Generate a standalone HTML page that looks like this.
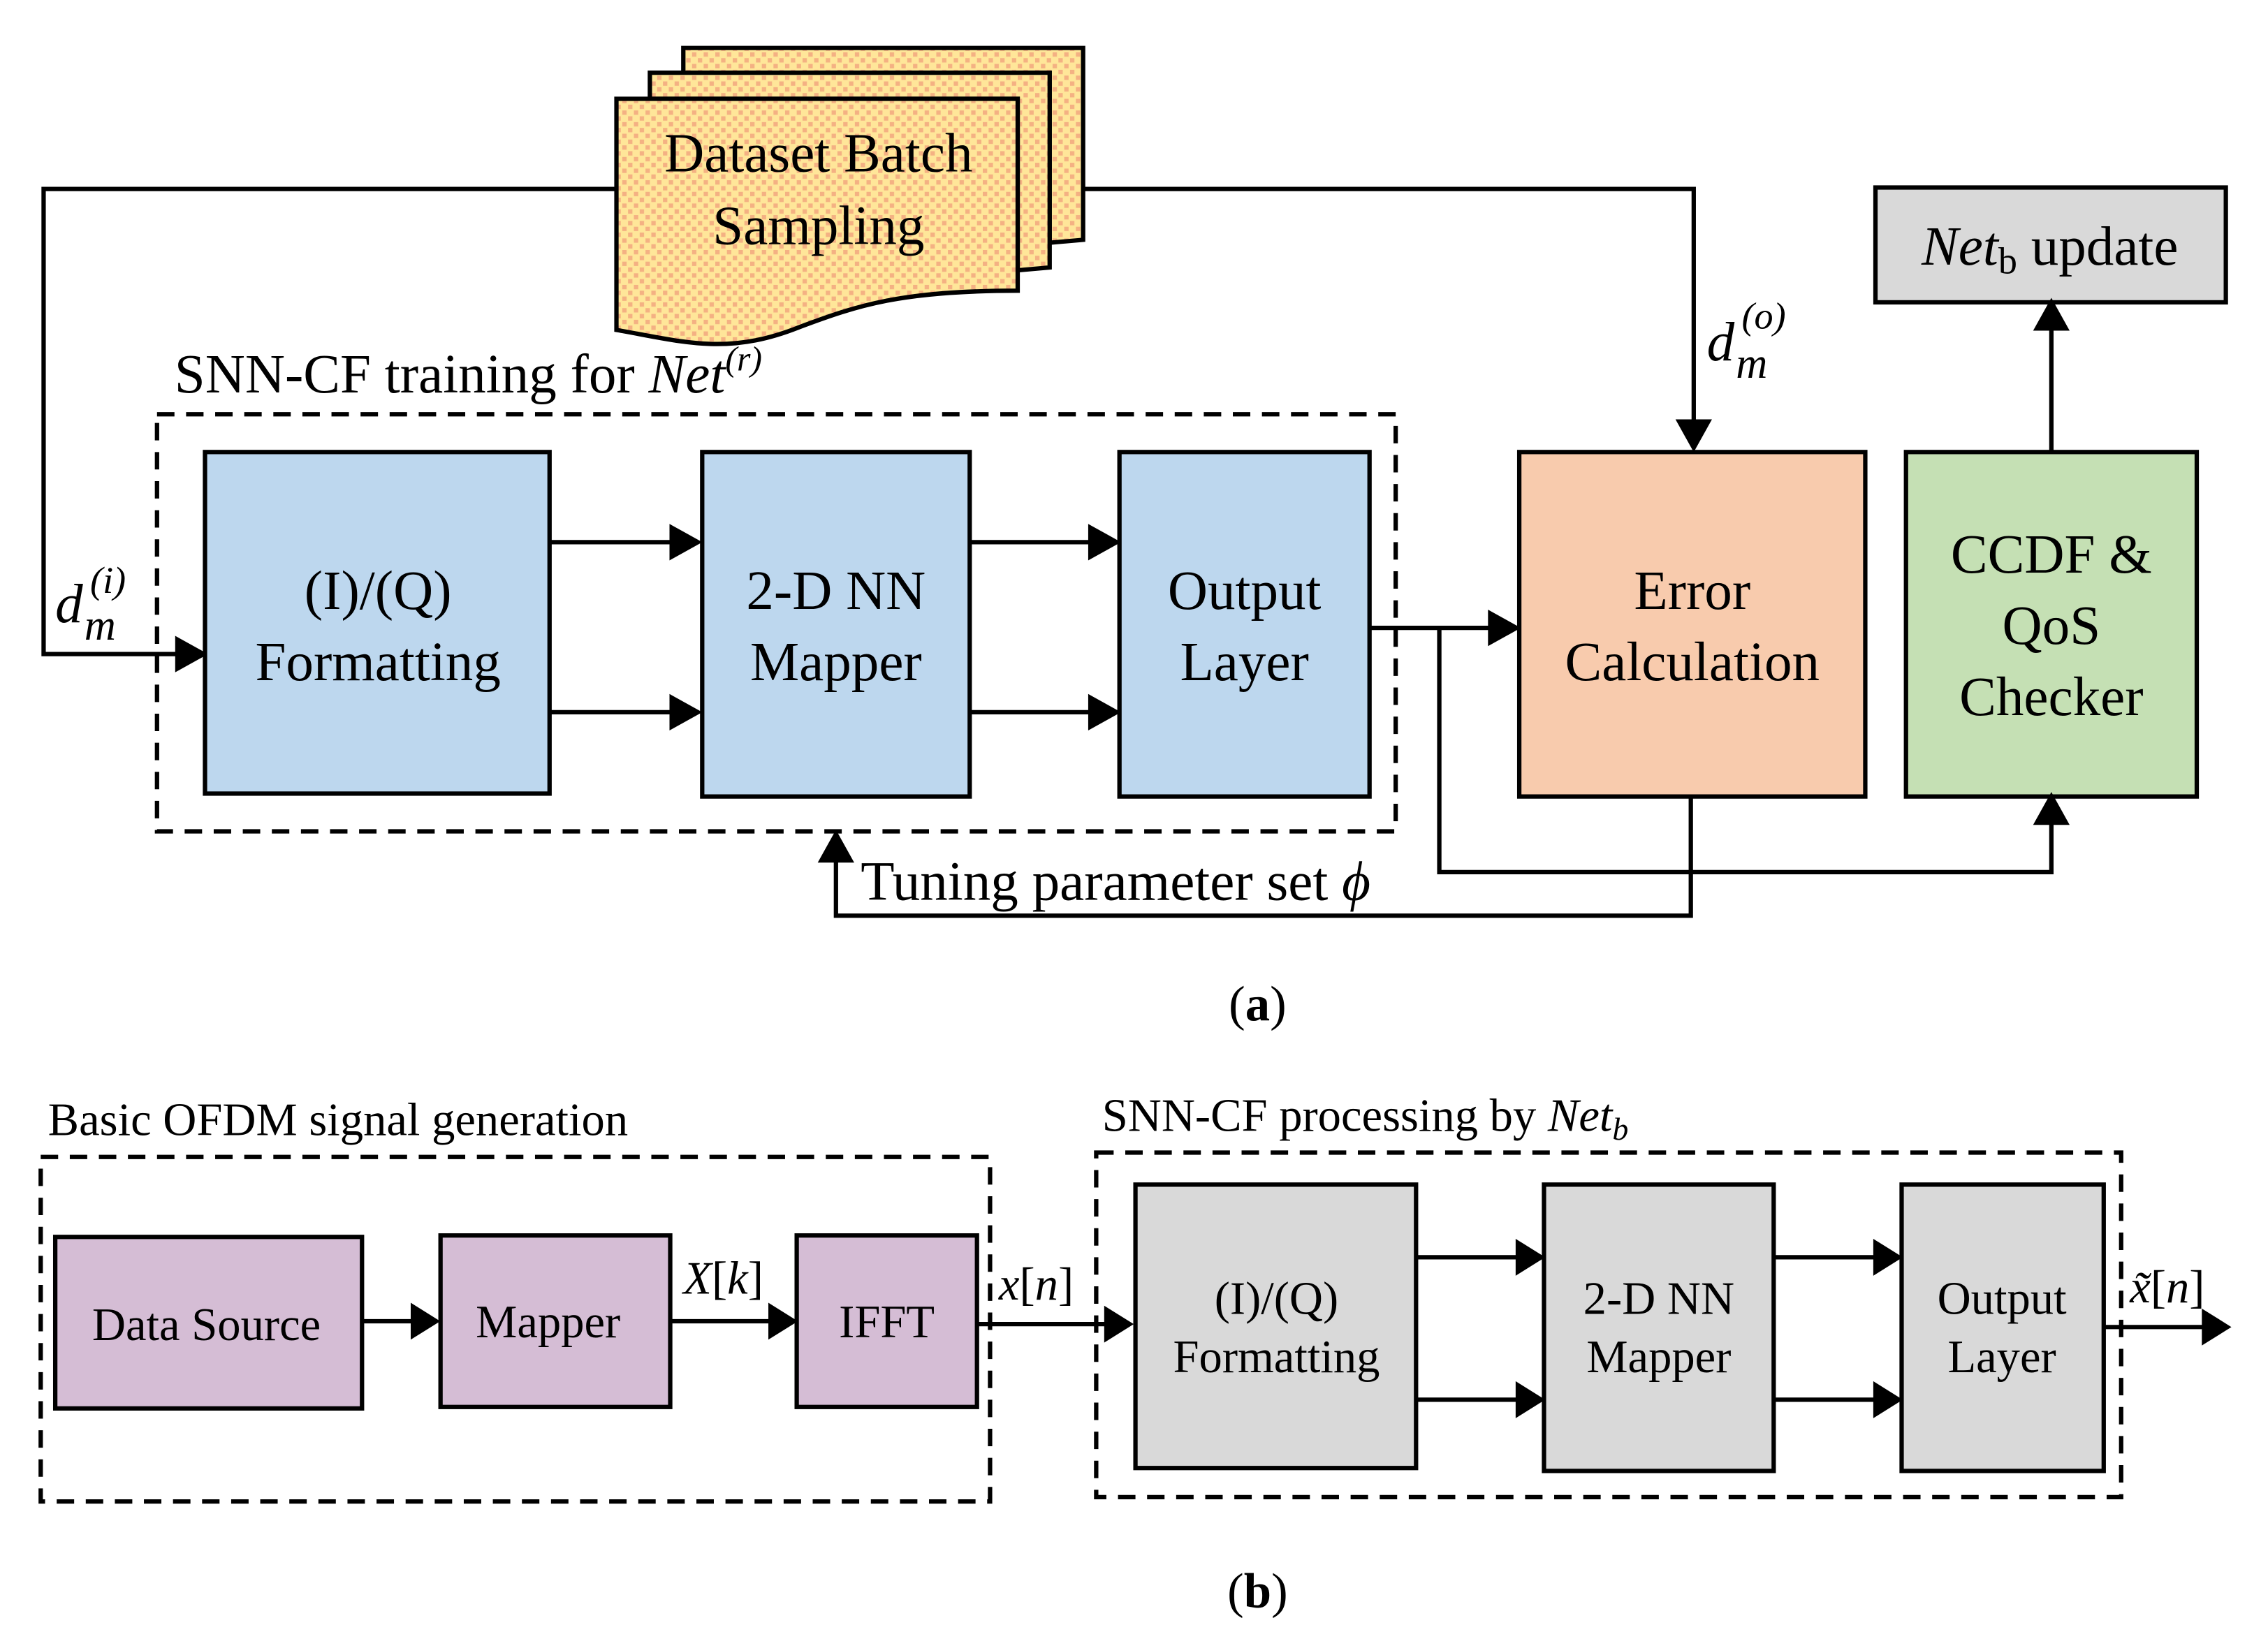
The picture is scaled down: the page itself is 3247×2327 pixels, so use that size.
<!DOCTYPE html>
<html><head><meta charset="utf-8"><style>html,body{margin:0;padding:0;background:#fff}svg{display:block}</style></head>
<body>
<svg width="3247" height="2327" viewBox="0 0 1560 1118" preserveAspectRatio="none" xmlns="http://www.w3.org/2000/svg" font-family="Liberation Serif, serif">
<defs>
<pattern id="dots" width="8" height="8" patternUnits="userSpaceOnUse">
<rect width="8" height="8" fill="#ffe699"/>
<rect x="0" y="0" width="3" height="3" fill="#f4b183"/>
<rect x="4" y="4" width="3" height="3" fill="#f4b183"/>
</pattern>
</defs>
<style>
.ln{stroke:#000;stroke-width:3;fill:none}
.bx{stroke:#000;stroke-width:3}
.t{font-size:38px;text-anchor:middle}
.tb{font-size:32px;text-anchor:middle}
</style>
<g stroke="#000" stroke-width="3">
<polyline class="ln" points="424,130 30,130 30,450 122,450"/>
<polygon points="122,440 140,450 122,460" fill="#000"/>
<polyline class="ln" points="745,130 1165,130 1165,290"/>
<polygon points="1155,290 1165,308 1175,290" fill="#000"/>
<path d="M470,33 L745,33 L745,165 L722,167 L722,50 L470,50 Z" fill="url(#dots)"/>
<path d="M447,50 L722,50 L722,184 L700,186 L700,68 L447,68 Z" fill="url(#dots)"/>
<path d="M424,68 L700,68 L700,200 C620,200 590,210 550,225 C500,245 470,235 424,227 Z" fill="url(#dots)"/>
</g>
<text x="563" y="118" class="t">Dataset Batch</text>
<text x="563" y="168" class="t">Sampling</text>
<rect x="1290" y="129" width="241" height="79" fill="#d9d9d9" class="bx"/>
<text x="1410" y="182" class="t"><tspan font-style="italic">Net</tspan><tspan font-size="26" dy="6">b</tspan><tspan dy="-6"> update</tspan></text>
<rect x="108" y="285" width="852" height="287" fill="none" stroke="#000" stroke-width="3" stroke-dasharray="12,8"/>
<text x="120" y="270" font-size="38">SNN-CF training for <tspan font-style="italic">Net</tspan><tspan font-style="italic" font-size="24" dy="-15">(r)</tspan></text>
<rect x="141" y="311" width="237" height="235" fill="#bdd7ee" class="bx"/>
<rect x="483" y="311" width="184" height="237" fill="#bdd7ee" class="bx"/>
<rect x="770" y="311" width="172" height="237" fill="#bdd7ee" class="bx"/>
<rect x="1045" y="311" width="238" height="237" fill="#f8cbad" class="bx"/>
<rect x="1311" y="311" width="200" height="237" fill="#c5e0b4" class="bx"/>
<text x="260" y="419" class="t">(I)/(Q)</text><text x="260" y="468" class="t">Formatting</text>
<text x="575" y="419" class="t">2-D NN</text><text x="575" y="468" class="t">Mapper</text>
<text x="856" y="419" class="t">Output</text><text x="856" y="468" class="t">Layer</text>
<text x="1164" y="419" class="t">Error</text><text x="1164" y="468" class="t">Calculation</text>
<text x="1411" y="394" class="t">CCDF &amp;</text><text x="1411" y="443" class="t">QoS</text><text x="1411" y="492" class="t">Checker</text>
<g stroke="#000" stroke-width="3" fill="#000">
<line x1="378" y1="373" x2="462" y2="373"/><polygon points="462,363 480,373 462,383"/>
<line x1="378" y1="490" x2="462" y2="490"/><polygon points="462,480 480,490 462,500"/>
<line x1="667" y1="373" x2="750" y2="373"/><polygon points="750,363 768,373 750,383"/>
<line x1="667" y1="490" x2="750" y2="490"/><polygon points="750,480 768,490 750,500"/>
<line x1="942" y1="432" x2="1025" y2="432"/><polygon points="1025,422 1043,432 1025,442"/>
<line x1="1411" y1="311" x2="1411" y2="226"/><polygon points="1401,226 1411,208 1421,226"/>
<polyline fill="none" points="990,432 990,600 1411,600 1411,566"/><polygon points="1401,566 1411,548 1421,566"/>
<polyline fill="none" points="1163,548 1163,630 575,630 575,592"/><polygon points="565,592 575,574 585,592"/>
</g>
<text x="38" y="428" font-size="38" font-style="italic">d</text><text x="58" y="440" font-size="30" font-style="italic">m</text><text x="62" y="408" font-size="26" font-style="italic">(i)</text>
<text x="1174" y="248" font-size="38" font-style="italic">d</text><text x="1194" y="260" font-size="30" font-style="italic">m</text><text x="1198" y="226" font-size="26" font-style="italic">(o)</text>
<text x="592" y="619" font-size="38">Tuning parameter set <tspan font-style="italic">ϕ</tspan></text>
<text x="865" y="702" font-size="34" text-anchor="middle">(<tspan font-weight="bold">a</tspan>)</text>
<text x="33" y="781" font-size="32">Basic OFDM signal generation</text>
<rect x="28" y="796" width="653" height="237" fill="none" stroke="#000" stroke-width="3" stroke-dasharray="12,8"/>
<rect x="38" y="851" width="211" height="118" fill="#d5bdd5" class="bx"/>
<rect x="303" y="850" width="158" height="118" fill="#d5bdd5" class="bx"/>
<rect x="548" y="850" width="124" height="118" fill="#d5bdd5" class="bx"/>
<text x="142" y="922" class="tb">Data Source</text>
<text x="377" y="920" class="tb">Mapper</text>
<text x="610" y="920" class="tb">IFFT</text>
<text x="758" y="778" font-size="32">SNN-CF processing by <tspan font-style="italic">Net<tspan font-size="22" dy="6">b</tspan></tspan></text>
<rect x="754" y="793" width="705" height="237" fill="none" stroke="#000" stroke-width="3" stroke-dasharray="12,8"/>
<rect x="781" y="815" width="193" height="195" fill="#d9d9d9" class="bx"/>
<rect x="1062" y="815" width="158" height="197" fill="#d9d9d9" class="bx"/>
<rect x="1308" y="815" width="139" height="197" fill="#d9d9d9" class="bx"/>
<text x="878" y="904" class="tb">(I)/(Q)</text><text x="878" y="944" class="tb">Formatting</text>
<text x="1141" y="904" class="tb">2-D NN</text><text x="1141" y="944" class="tb">Mapper</text>
<text x="1377" y="904" class="tb">Output</text><text x="1377" y="944" class="tb">Layer</text>
<g stroke="#000" stroke-width="3" fill="#000">
<line x1="249" y1="909" x2="284" y2="909"/><polygon points="284,899 300,909 284,919"/>
<line x1="461" y1="909" x2="530" y2="909"/><polygon points="530,899 546,909 530,919"/>
<line x1="672" y1="911" x2="761" y2="911"/><polygon points="761,901 777,911 761,921"/>
<line x1="974" y1="865" x2="1044" y2="865"/><polygon points="1044,855 1060,865 1044,875"/>
<line x1="974" y1="963" x2="1044" y2="963"/><polygon points="1044,953 1060,963 1044,973"/>
<line x1="1220" y1="865" x2="1290" y2="865"/><polygon points="1290,855 1306,865 1290,875"/>
<line x1="1220" y1="963" x2="1290" y2="963"/><polygon points="1290,953 1306,963 1290,973"/>
<line x1="1447" y1="913" x2="1516" y2="913"/><polygon points="1516,903 1532,913 1516,923"/>
</g>
<text x="470" y="890" font-size="32" font-style="italic">X<tspan font-style="normal">[</tspan>k<tspan font-style="normal">]</tspan></text>
<text x="687" y="894" font-size="32" font-style="italic">x<tspan font-style="normal">[</tspan>n<tspan font-style="normal">]</tspan></text>
<text x="1465" y="896" font-size="32" font-style="italic">x̃<tspan font-style="normal">[</tspan>n<tspan font-style="normal">]</tspan></text>
<text x="865" y="1106" font-size="34" text-anchor="middle">(<tspan font-weight="bold">b</tspan>)</text>
</svg>
</body></html>
